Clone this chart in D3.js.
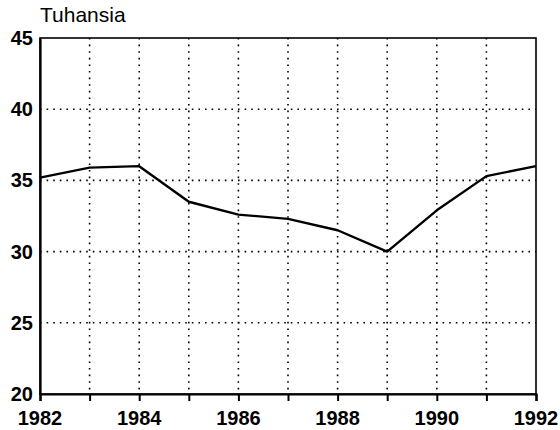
<!DOCTYPE html>
<html>
<head>
<meta charset="utf-8">
<script src="https://cdn.jsdelivr.net/npm/d3@7"></script>
<style>
  body { margin: 0; background: #fff; }
  text { font-family: "Liberation Sans", Arial, sans-serif; fill: #000; }
  .TickLabel { font-size: 20px; font-weight: bold; }
  .ChartTitle { font-size: 21px; }
</style>
</head>
<body>
<div id="ChartContainer"></div>
<script>
var years = [1982, 1983, 1984, 1985, 1986, 1987, 1988, 1989, 1990, 1991, 1992]
var values = [35.2, 35.9, 36.0, 33.5, 32.6, 32.3, 31.5, 30.0, 32.9, 35.3, 36.0]
var xTickLabels = [1982, 1984, 1986, 1988, 1990, 1992]
var yTickLabels = [20, 25, 30, 35, 40, 45]

var fullWidth = 560
var fullHeight = 430
var margin = { top: 38, right: 24, bottom: 36, left: 40 }
var width = fullWidth - margin.left - margin.right
var height = fullHeight - margin.top - margin.bottom

var svg = d3.select("#ChartContainer").append("svg")
  .attr("width", fullWidth)
  .attr("height", fullHeight)

var x = d3.scaleLinear().domain([1982, 1992]).range([0, width])
var y = d3.scaleLinear().domain([20, 45]).range([height, 0])

var g = svg.append("g")
  .attr("transform", `translate(${margin.left},${margin.top})`)

// dotted grid
g.selectAll(".GridX")
  .data(years.slice(1, -1))
  .enter().append("line")
  .attr("x1", d => x(d)).attr("x2", d => x(d))
  .attr("y1", 0).attr("y2", height)
  .attr("stroke", "#000").attr("stroke-width", 1.6)
  .attr("stroke-dasharray", "1.6,5")

g.selectAll(".GridY")
  .data(yTickLabels.slice(1, -1))
  .enter().append("line")
  .attr("x1", 0).attr("x2", width)
  .attr("y1", d => y(d)).attr("y2", d => y(d))
  .attr("stroke", "#000").attr("stroke-width", 1.6)
  .attr("stroke-dasharray", "1.6,5")

// frame
g.append("rect")
  .attr("width", width).attr("height", height)
  .attr("fill", "none").attr("stroke", "#000").attr("stroke-width", 1.6)

// x-axis
var xAxis = g.append("g")
  .attr("transform", "translate(0," + height + ")")
  .call(d3.axisBottom(x).tickValues(years).tickSize(7).tickFormat(""))
xAxis.select(".domain").attr("stroke-width", 2.2)
xAxis.selectAll(".tick line").attr("stroke-width", 2)

xAxis.selectAll(".XLabel")
  .data(xTickLabels)
  .enter().append("text")
  .attr("class", "TickLabel")
  .attr("x", d => x(d))
  .attr("y", 31)
  .attr("text-anchor", "middle")
  .text(d => d)

// y-axis
var yAxis = g.append("g")
  .call(d3.axisLeft(y).tickValues(yTickLabels).tickSize(0).tickPadding(7).tickFormat(d => d))
yAxis.select(".domain").attr("stroke-width", 2.2)
yAxis.selectAll(".tick text")
  .attr("class", "TickLabel")
  .attr("font-family", null).attr("font-size", null)

// line
var line = d3.line()
  .x((d, i) => x(years[i]))
  .y(d => y(d))

g.append("path")
  .datum(values)
  .attr("fill", "none")
  .attr("stroke", "#000")
  .attr("stroke-width", 2.4)
  .attr("stroke-linejoin", "round")
  .attr("d", line)

// title
svg.append("text")
  .attr("class", "ChartTitle")
  .attr("x", 40)
  .attr("y", 22)
  .text("Tuhansia")
</script>
</body>
</html>
